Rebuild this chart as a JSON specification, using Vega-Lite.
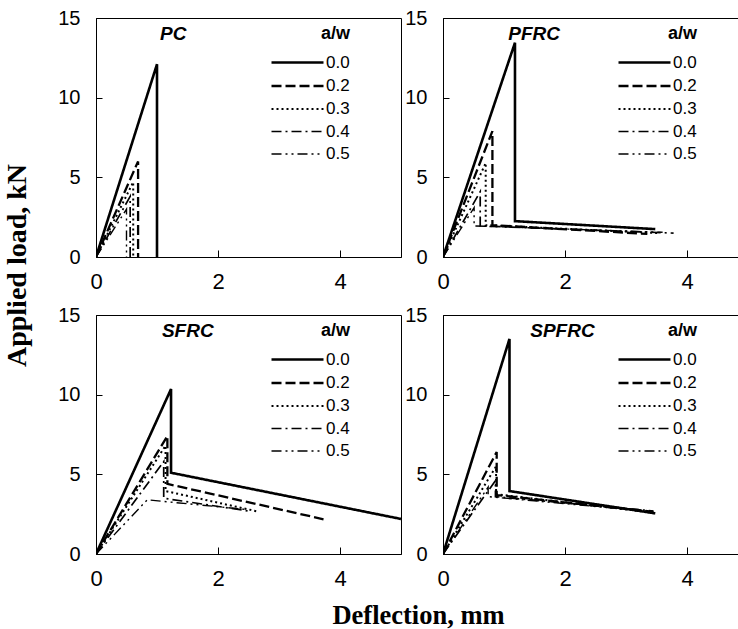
{
  "$schema": "https://vega.github.io/schema/vega-lite/v6.json",
  "autosize": {"type": "pad"},
  "padding": {"left": 2, "top": 7, "right": 0, "bottom": 0},
  "background": "white",
  "datasets": {
    "panels": [
      {"p": "PC", "label": "PC"}, {"p": "PFRC", "label": "PFRC"}, {"p": "SFRC", "label": "SFRC"}, {"p": "SPFRC", "label": "SPFRC"}
    ],
    "curves": [
      {"p":"PC","aw":"0.0","i":0,"x":0,"y":0},{"p":"PC","aw":"0.0","i":1,"x":1.0,"y":12.1},{"p":"PC","aw":"0.0","i":2,"x":1.0,"y":0},
      {"p":"PC","aw":"0.2","i":0,"x":0,"y":0},{"p":"PC","aw":"0.2","i":1,"x":0.69,"y":6.0},{"p":"PC","aw":"0.2","i":2,"x":0.69,"y":0},
      {"p":"PC","aw":"0.3","i":0,"x":0,"y":0},{"p":"PC","aw":"0.3","i":1,"x":0.61,"y":4.7},{"p":"PC","aw":"0.3","i":2,"x":0.61,"y":0},
      {"p":"PC","aw":"0.4","i":0,"x":0,"y":0},{"p":"PC","aw":"0.4","i":1,"x":0.56,"y":3.8},{"p":"PC","aw":"0.4","i":2,"x":0.56,"y":0},
      {"p":"PC","aw":"0.5","i":0,"x":0,"y":0},{"p":"PC","aw":"0.5","i":1,"x":0.50,"y":3.0},{"p":"PC","aw":"0.5","i":2,"x":0.50,"y":0},

      {"p":"PFRC","aw":"0.0","i":0,"x":0,"y":0},{"p":"PFRC","aw":"0.0","i":1,"x":1.18,"y":13.45},{"p":"PFRC","aw":"0.0","i":2,"x":1.18,"y":2.25},{"p":"PFRC","aw":"0.0","i":3,"x":3.48,"y":1.75},
      {"p":"PFRC","aw":"0.2","i":0,"x":0,"y":0},{"p":"PFRC","aw":"0.2","i":1,"x":0.81,"y":7.9},{"p":"PFRC","aw":"0.2","i":2,"x":0.81,"y":2.0},{"p":"PFRC","aw":"0.2","i":3,"x":3.35,"y":1.45},
      {"p":"PFRC","aw":"0.3","i":0,"x":0,"y":0},{"p":"PFRC","aw":"0.3","i":1,"x":0.70,"y":5.9},{"p":"PFRC","aw":"0.3","i":2,"x":0.70,"y":2.0},{"p":"PFRC","aw":"0.3","i":3,"x":3.55,"y":1.5},
      {"p":"PFRC","aw":"0.4","i":0,"x":0,"y":0},{"p":"PFRC","aw":"0.4","i":1,"x":0.61,"y":4.1},{"p":"PFRC","aw":"0.4","i":2,"x":0.61,"y":1.95},{"p":"PFRC","aw":"0.4","i":3,"x":3.78,"y":1.5},
      {"p":"PFRC","aw":"0.5","i":0,"x":0,"y":0},{"p":"PFRC","aw":"0.5","i":1,"x":0.51,"y":3.1},{"p":"PFRC","aw":"0.5","i":2,"x":0.51,"y":1.95},{"p":"PFRC","aw":"0.5","i":3,"x":3.6,"y":1.55},

      {"p":"SFRC","aw":"0.0","i":0,"x":0,"y":0},{"p":"SFRC","aw":"0.0","i":1,"x":1.23,"y":10.35},{"p":"SFRC","aw":"0.0","i":2,"x":1.23,"y":5.1},{"p":"SFRC","aw":"0.0","i":3,"x":5.0,"y":2.2},
      {"p":"SFRC","aw":"0.2","i":0,"x":0,"y":0},{"p":"SFRC","aw":"0.2","i":1,"x":1.17,"y":7.4},{"p":"SFRC","aw":"0.2","i":2,"x":1.17,"y":4.4},{"p":"SFRC","aw":"0.2","i":3,"x":3.73,"y":2.18},
      {"p":"SFRC","aw":"0.3","i":0,"x":0,"y":0},{"p":"SFRC","aw":"0.3","i":1,"x":1.14,"y":6.8},{"p":"SFRC","aw":"0.3","i":2,"x":1.14,"y":3.95},{"p":"SFRC","aw":"0.3","i":3,"x":2.66,"y":2.66},
      {"p":"SFRC","aw":"0.4","i":0,"x":0,"y":0},{"p":"SFRC","aw":"0.4","i":1,"x":1.11,"y":5.8},{"p":"SFRC","aw":"0.4","i":2,"x":1.11,"y":3.5},{"p":"SFRC","aw":"0.4","i":3,"x":2.5,"y":2.7},
      {"p":"SFRC","aw":"0.5","i":0,"x":0,"y":0},{"p":"SFRC","aw":"0.5","i":1,"x":0.84,"y":3.4},{"p":"SFRC","aw":"0.5","i":2,"x":2.45,"y":2.8},

      {"p":"SPFRC","aw":"0.0","i":0,"x":0,"y":0},{"p":"SPFRC","aw":"0.0","i":1,"x":1.09,"y":13.5},{"p":"SPFRC","aw":"0.0","i":2,"x":1.09,"y":3.95},{"p":"SPFRC","aw":"0.0","i":3,"x":3.48,"y":2.55},
      {"p":"SPFRC","aw":"0.2","i":0,"x":0,"y":0},{"p":"SPFRC","aw":"0.2","i":1,"x":0.88,"y":6.4},{"p":"SPFRC","aw":"0.2","i":2,"x":0.88,"y":3.7},{"p":"SPFRC","aw":"0.2","i":3,"x":3.45,"y":2.65},
      {"p":"SPFRC","aw":"0.3","i":0,"x":0,"y":0},{"p":"SPFRC","aw":"0.3","i":1,"x":0.87,"y":5.5},{"p":"SPFRC","aw":"0.3","i":2,"x":0.87,"y":3.75},{"p":"SPFRC","aw":"0.3","i":3,"x":3.45,"y":2.6},
      {"p":"SPFRC","aw":"0.4","i":0,"x":0,"y":0},{"p":"SPFRC","aw":"0.4","i":1,"x":0.86,"y":4.6},{"p":"SPFRC","aw":"0.4","i":2,"x":0.86,"y":3.6},{"p":"SPFRC","aw":"0.4","i":3,"x":3.45,"y":2.7},
      {"p":"SPFRC","aw":"0.5","i":0,"x":0,"y":0},{"p":"SPFRC","aw":"0.5","i":1,"x":0.74,"y":4.2},{"p":"SPFRC","aw":"0.5","i":2,"x":0.74,"y":3.6},{"p":"SPFRC","aw":"0.5","i":3,"x":3.45,"y":2.65}
    ]
  },
  "columns": 2,
  "spacing": {"row": 58, "column": 42},
  "bounds": "flush",
  "resolve": {
    "scale": {"strokeDash": "independent", "strokeWidth": "independent"},
    "legend": {"strokeDash": "independent", "strokeWidth": "independent"}
  },
  "concat": [
    {
      "width": 305, "height": 239,
      "layer": [
        {
          "data": {"name": "curves"},
          "transform": [{"filter": "datum.p === 'PC'"}],
          "mark": {"type": "line", "color": "black", "clip": true},
          "encoding": {
            "x": {"field": "x", "type": "quantitative", "scale": {"domain": [0, 5], "nice": false}, "axis": {"values": [0, 2, 4], "format": "d", "title": null}},
            "y": {"field": "y", "type": "quantitative", "scale": {"domain": [0, 15], "nice": false}, "axis": {"values": [0, 5, 10, 15], "format": "d", "title": "Applied load, kN", "titleX": -79, "titleY": 247, "titleAngle": -90, "titleAlign": "center", "titleBaseline": "middle", "titleFont": "Liberation Serif", "titleFontSize": 28, "titleFontWeight": "bold", "titleColor": "black"}},
            "order": {"field": "i", "type": "quantitative"},
            "strokeDash": {"field": "aw", "type": "ordinal", "scale": {"domain": ["0.0","0.2","0.3","0.4","0.5"], "range": [[1,0],[10,4],[2,3],[10,4,2,4],[10,4,2,4,2,4]]}, "legend": {"title": "a/w"}},
            "strokeWidth": {"field": "aw", "type": "ordinal", "scale": {"domain": ["0.0","0.2","0.3","0.4","0.5"], "range": [2.6,1.4,1.4,1.4,1.4]}, "legend": {"title": "a/w"}}
          }
        },
        {
          "data": {"name": "panels"},
          "transform": [{"filter": "datum.p === 'PC'"}],
          "mark": {"type": "text", "align": "left", "baseline": "middle", "font": "Liberation Sans", "fontSize": 19, "fontStyle": "italic", "fontWeight": "bold", "color": "black"},
          "encoding": {"x": {"datum": 1.05, "type": "quantitative", "scale": {"domain": [0, 5], "nice": false}}, "y": {"datum": 14.0, "type": "quantitative", "scale": {"domain": [0, 15], "nice": false}}, "text": {"field": "label"}}
        }
      ]
    },
    {
      "width": 305, "height": 239,
      "layer": [
        {
          "data": {"name": "curves"},
          "transform": [{"filter": "datum.p === 'PFRC'"}],
          "mark": {"type": "line", "color": "black", "clip": true},
          "encoding": {
            "x": {"field": "x", "type": "quantitative", "scale": {"domain": [0, 5], "nice": false}, "axis": {"values": [0, 2, 4], "format": "d", "title": null}},
            "y": {"field": "y", "type": "quantitative", "scale": {"domain": [0, 15], "nice": false}, "axis": {"values": [0, 5, 10, 15], "format": "d", "title": null}},
            "order": {"field": "i", "type": "quantitative"},
            "strokeDash": {"field": "aw", "type": "ordinal", "scale": {"domain": ["0.0","0.2","0.3","0.4","0.5"], "range": [[1,0],[10,4],[2,3],[10,4,2,4],[10,4,2,4,2,4]]}, "legend": {"title": "a/w"}},
            "strokeWidth": {"field": "aw", "type": "ordinal", "scale": {"domain": ["0.0","0.2","0.3","0.4","0.5"], "range": [2.6,1.4,1.4,1.4,1.4]}, "legend": {"title": "a/w"}}
          }
        },
        {
          "data": {"name": "panels"},
          "transform": [{"filter": "datum.p === 'PFRC'"}],
          "mark": {"type": "text", "align": "left", "baseline": "middle", "font": "Liberation Sans", "fontSize": 19, "fontStyle": "italic", "fontWeight": "bold", "color": "black"},
          "encoding": {"x": {"datum": 1.07, "type": "quantitative", "scale": {"domain": [0, 5], "nice": false}}, "y": {"datum": 14.0, "type": "quantitative", "scale": {"domain": [0, 15], "nice": false}}, "text": {"field": "label"}}
        }
      ]
    },
    {
      "width": 305, "height": 239,
      "layer": [
        {
          "data": {"name": "curves"},
          "transform": [{"filter": "datum.p === 'SFRC'"}],
          "mark": {"type": "line", "color": "black", "clip": true},
          "encoding": {
            "x": {"field": "x", "type": "quantitative", "scale": {"domain": [0, 5], "nice": false}, "axis": {"values": [0, 2, 4], "format": "d", "title": "Deflection, mm", "titleX": 322, "titleY": 69, "titleAlign": "center", "titleBaseline": "alphabetic", "titleFont": "Liberation Serif", "titleFontSize": 26.5, "titleFontWeight": "bold", "titleColor": "black"}},
            "y": {"field": "y", "type": "quantitative", "scale": {"domain": [0, 15], "nice": false}, "axis": {"values": [0, 5, 10, 15], "format": "d", "title": null}},
            "order": {"field": "i", "type": "quantitative"},
            "strokeDash": {"field": "aw", "type": "ordinal", "scale": {"domain": ["0.0","0.2","0.3","0.4","0.5"], "range": [[1,0],[10,4],[2,3],[10,4,2,4],[10,4,2,4,2,4]]}, "legend": {"title": "a/w"}},
            "strokeWidth": {"field": "aw", "type": "ordinal", "scale": {"domain": ["0.0","0.2","0.3","0.4","0.5"], "range": [2.6,1.4,1.4,1.4,1.4]}, "legend": {"title": "a/w"}}
          }
        },
        {
          "data": {"name": "panels"},
          "transform": [{"filter": "datum.p === 'SFRC'"}],
          "mark": {"type": "text", "align": "left", "baseline": "middle", "font": "Liberation Sans", "fontSize": 19, "fontStyle": "italic", "fontWeight": "bold", "color": "black"},
          "encoding": {"x": {"datum": 1.08, "type": "quantitative", "scale": {"domain": [0, 5], "nice": false}}, "y": {"datum": 14.0, "type": "quantitative", "scale": {"domain": [0, 15], "nice": false}}, "text": {"field": "label"}}
        }
      ]
    },
    {
      "width": 305, "height": 239,
      "layer": [
        {
          "data": {"name": "curves"},
          "transform": [{"filter": "datum.p === 'SPFRC'"}],
          "mark": {"type": "line", "color": "black", "clip": true},
          "encoding": {
            "x": {"field": "x", "type": "quantitative", "scale": {"domain": [0, 5], "nice": false}, "axis": {"values": [0, 2, 4], "format": "d", "title": null}},
            "y": {"field": "y", "type": "quantitative", "scale": {"domain": [0, 15], "nice": false}, "axis": {"values": [0, 5, 10, 15], "format": "d", "title": null}},
            "order": {"field": "i", "type": "quantitative"},
            "strokeDash": {"field": "aw", "type": "ordinal", "scale": {"domain": ["0.0","0.2","0.3","0.4","0.5"], "range": [[1,0],[10,4],[2,3],[10,4,2,4],[10,4,2,4,2,4]]}, "legend": {"title": "a/w"}},
            "strokeWidth": {"field": "aw", "type": "ordinal", "scale": {"domain": ["0.0","0.2","0.3","0.4","0.5"], "range": [2.6,1.4,1.4,1.4,1.4]}, "legend": {"title": "a/w"}}
          }
        },
        {
          "data": {"name": "panels"},
          "transform": [{"filter": "datum.p === 'SPFRC'"}],
          "mark": {"type": "text", "align": "left", "baseline": "middle", "font": "Liberation Sans", "fontSize": 19, "fontStyle": "italic", "fontWeight": "bold", "color": "black"},
          "encoding": {"x": {"datum": 1.43, "type": "quantitative", "scale": {"domain": [0, 5], "nice": false}}, "y": {"datum": 14.0, "type": "quantitative", "scale": {"domain": [0, 15], "nice": false}}, "text": {"field": "label"}}
        }
      ]
    }
  ],
  "config": {
    "view": {"stroke": "black", "strokeWidth": 1},
    "axis": {"grid": false, "domainColor": "black", "domainWidth": 1, "tickColor": "black", "tickWidth": 1, "labelColor": "black", "labelFont": "Liberation Sans", "labelFlush": false},
    "axisX": {"tickSize": -7, "labelPadding": 21, "labelFontSize": 22},
    "axisY": {"tickSize": -6, "labelPadding": 22, "labelFontSize": 20},
    "legend": {
      "orient": "none", "legendX": 174, "legendY": 7,
      "symbolType": "M-1,0L3,0", "symbolSize": 676, "symbolStrokeColor": "black", "symbolFillColor": "transparent",
      "labelFont": "Liberation Sans", "labelFontSize": 17, "labelColor": "black", "labelOffset": 27,
      "titleFont": "Liberation Sans", "titleFontSize": 18, "titleFontWeight": "bold", "titleColor": "black", "titleAnchor": "end",
      "rowPadding": 0.5
    }
  }
}
